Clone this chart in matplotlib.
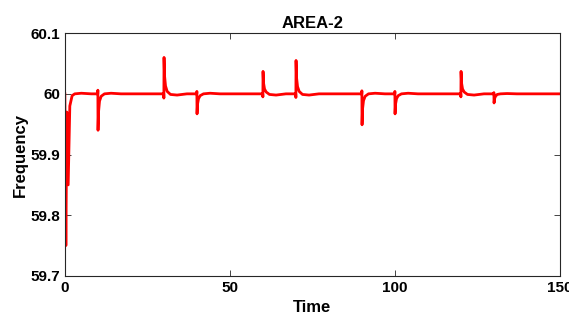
import matplotlib
matplotlib.use("Agg")
import matplotlib.pyplot as plt

time = [0, 0.3, 0.6, 1.0, 1.5, 2.2, 3, 5, 8,
        9.95, 10, 10.05, 10.2, 10.5, 11, 12, 14, 17,
        29.95, 30, 30.05, 30.2, 30.5, 31, 32, 34, 37,
        39.95, 40, 40.05, 40.2, 40.5, 41, 42, 44, 47,
        59.95, 60, 60.05, 60.2, 60.5, 61, 62, 64, 67,
        69.95, 70, 70.05, 70.2, 70.5, 71, 72, 74, 77,
        89.95, 90, 90.05, 90.2, 90.5, 91, 92, 94, 97,
        99.95, 100, 100.05, 100.2, 100.5, 101, 102, 104, 107,
        119.95, 120, 120.05, 120.2, 120.5, 121, 122, 124, 127,
        129.95, 130, 130.05, 130.2, 130.5, 131, 132, 134, 137,
        150]
freq = [60.0, 59.75, 59.97, 59.85, 59.98, 59.997, 60.0, 60.001, 60.0,
        60.0, 60.006, 59.94, 59.97, 59.988, 59.996, 60.0, 60.001, 60.0,
        60.0, 59.993, 60.06, 60.03, 60.013, 60.004, 59.999, 59.998, 60.0,
        60.0, 60.004, 59.967, 59.983, 59.992, 59.997, 60.0, 60.001, 60.0,
        60.0, 59.995, 60.037, 60.018, 60.008, 60.003, 59.999, 59.998, 60.0,
        60.0, 59.994, 60.055, 60.027, 60.012, 60.004, 59.999, 59.998, 60.0,
        60.0, 60.005, 59.949, 59.975, 59.989, 59.996, 60.0, 60.001, 60.0,
        60.0, 60.004, 59.967, 59.983, 59.992, 59.997, 60.0, 60.001, 60.0,
        60.0, 59.995, 60.037, 60.018, 60.008, 60.003, 59.999, 59.998, 60.0,
        60.0, 60.002, 59.985, 59.992, 59.996, 59.999, 60.0, 60.0005, 60.0,
        60.0]

xticks = [0, 50, 100, 150]
yticks = [59.7, 59.8, 59.9, 60.0, 60.1]
ytick_labels = ["59.7", "59.8", "59.9", "60", "60.1"]

plt.rcParams['font.family'] = ['Liberation Sans', 'DejaVu Sans']
plt.rcParams['font.weight'] = 'bold'

fig = plt.figure(figsize=(5.69, 3.25), dpi=100)
ax = fig.add_axes([0.114, 0.151, 0.870, 0.747])
ax.plot(time, freq, color='red', linewidth=2)
ax.set_xlim(0, 150)
ax.set_ylim(59.7, 60.1)
ax.set_xticks(xticks)
ax.set_xticklabels([str(v) for v in xticks])
ax.set_yticks(yticks)
ax.set_yticklabels(ytick_labels)
ax.tick_params(direction='in', top=True, right=True, labelsize=11, length=4, width=0.6,
               colors='#262626', labelcolor='black')
for lab in ax.get_xticklabels() + ax.get_yticklabels():
    lab.set_fontweight('bold')
for s in ax.spines.values():
    s.set_linewidth(0.8)
    s.set_color('#262626')
ax.set_xlabel('Time', fontsize=12, fontweight='bold', labelpad=4)
ax.set_ylabel('Frequency', fontsize=12, fontweight='bold', labelpad=2)
ax.set_title('AREA-2', fontsize=12, fontweight='bold', pad=4)
fig.savefig('out.png', dpi=100)
